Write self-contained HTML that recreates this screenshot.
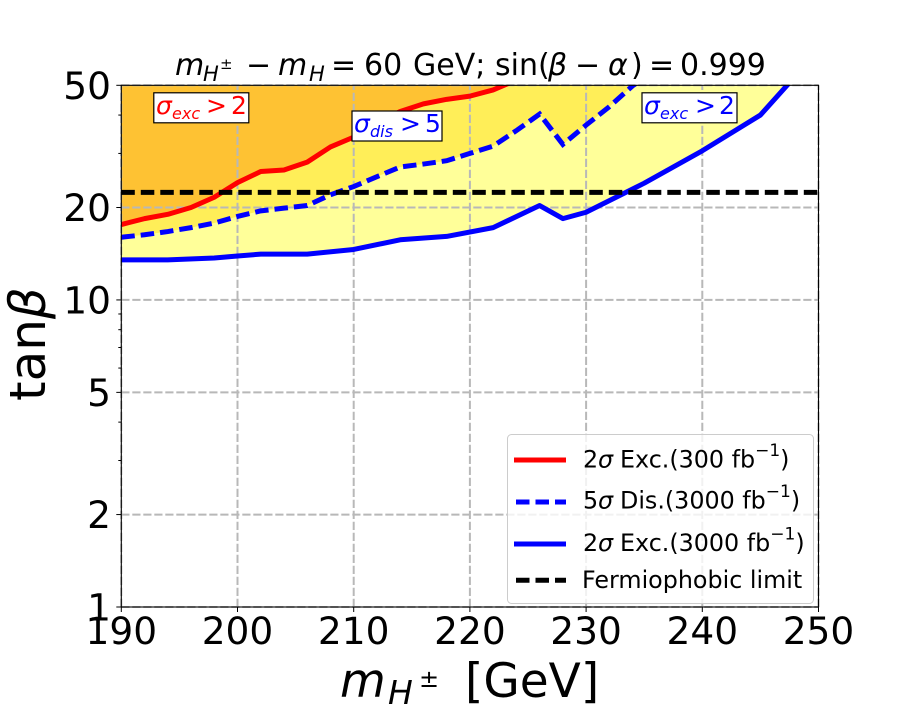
<!DOCTYPE html>
<html lang="en">
<head>
<meta charset="utf-8">
<title>tan beta exclusion chart</title>
<style>
html,body{margin:0;padding:0;background:#fff;width:909px;height:706px;overflow:hidden}
svg{display:block}
text{font-family:"DejaVu Sans","Liberation Sans",sans-serif;fill:#000}
.it{font-style:italic}
</style>
</head>
<body>
<svg id="chart" xmlns="http://www.w3.org/2000/svg" width="909" height="706" viewBox="0 0 909 706">
<defs><clipPath id="plot-clip"><rect x="121.3" y="85.3" width="697.2" height="521.7"/></clipPath></defs>
<g id="fills" clip-path="url(#plot-clip)"></g>
<g id="grid"></g>
<g id="lines" clip-path="url(#plot-clip)"></g>
<g id="axes"></g>

<g font-size="30">
<text y="75"><tspan class="it" x="175">m</tspan><tspan class="it" x="203" y="81" font-size="21">H</tspan><tspan x="220" y="69" font-size="15">±</tspan><tspan x="246" y="75">−</tspan><tspan class="it" x="278">m</tspan><tspan class="it" x="309" y="81" font-size="21">H</tspan><tspan x="331" y="75">=</tspan><tspan x="364">60</tspan><tspan x="413">GeV;</tspan><tspan x="495">sin(</tspan><tspan class="it" x="548">β</tspan><tspan x="575">−</tspan><tspan class="it" x="608">α</tspan><tspan x="631">)</tspan><tspan x="649">=</tspan><tspan x="680">0.999</tspan></text>
</g>

<g font-size="47">
<text y="697"><tspan class="it" x="340">m</tspan><tspan class="it" x="388" y="704" font-size="33">H</tspan><tspan x="419" y="687" font-size="24">±</tspan><tspan x="465" y="697">[GeV]</tspan></text>
</g>
<text font-size="50" transform="translate(45 401) rotate(-90)"><tspan>tan</tspan><tspan class="it">β</tspan></text>

<g>
<rect x="153.8" y="92.8" width="95" height="30" fill="#fff" stroke="#000" stroke-width="1.2"/>
<text y="114" font-size="25" style="fill:#f00"><tspan class="it" x="156">σ</tspan><tspan class="it" x="172" y="119" font-size="16">exc</tspan><tspan x="206" y="114">&gt;</tspan><tspan x="231">2</tspan></text>
</g>
<g>
<rect x="352" y="111" width="90" height="30" fill="#fff" stroke="#000" stroke-width="1.2"/>
<text y="132" font-size="25" style="fill:#00f"><tspan class="it" x="354">σ</tspan><tspan class="it" x="370" y="137" font-size="16">dis</tspan><tspan x="400" y="132">&gt;</tspan><tspan x="425">5</tspan></text>
</g>
<g>
<rect x="642" y="92.8" width="95" height="30" fill="#fff" stroke="#000" stroke-width="1.2"/>
<text y="114" font-size="25" style="fill:#00f"><tspan class="it" x="644">σ</tspan><tspan class="it" x="660" y="119" font-size="16">exc</tspan><tspan x="695" y="114">&gt;</tspan><tspan x="719">2</tspan></text>
</g>

<g>
<rect x="507.5" y="434.5" width="306" height="169" rx="4" ry="4" fill="#fff" fill-opacity="0.8" stroke="#ccc" stroke-width="1"/>
<g>
<line x1="514" x2="566" y1="460" y2="460" stroke="#f00" stroke-width="5"/>
<text font-size="23.8" y="467.5"><tspan x="583">2</tspan><tspan class="it" x="598">σ</tspan><tspan x="620">Exc.(300 fb</tspan><tspan y="456" font-size="17">−1</tspan><tspan y="467.5">)</tspan></text>
</g>
<g>
<line x1="516" x2="566" y1="502" y2="502" stroke="#00f" stroke-width="5" stroke-dasharray="13.5 6"/>
<text font-size="23.8" y="508.5"><tspan x="583">5</tspan><tspan class="it" x="598">σ</tspan><tspan x="620">Dis.(3000 fb</tspan><tspan y="497" font-size="17">−1</tspan><tspan y="508.5">)</tspan></text>
</g>
<g>
<line x1="514" x2="566" y1="544" y2="544" stroke="#00f" stroke-width="5"/>
<text font-size="23.8" y="551"><tspan x="583">2</tspan><tspan class="it" x="598">σ</tspan><tspan x="620">Exc.(3000 fb</tspan><tspan y="539.5" font-size="17">−1</tspan><tspan y="551">)</tspan></text>
</g>
<g>
<line x1="516" x2="566" y1="580.3" y2="580.3" stroke="#000" stroke-width="5" stroke-dasharray="13.5 6"/>
<text font-size="23.8" x="582" y="588">Fermiophobic limit</text>
</g>
</g>
</svg>
<script>
const xTicks = [190, 200, 210, 220, 230, 240, 250];
const yTicks = [1, 2, 5, 10, 20, 50];
const yMinorTicks = [3, 4, 6, 7, 8, 9, 30, 40];

const red300X = [190, 192, 194, 196, 198, 200, 202, 204, 206, 208, 210, 212, 214, 216, 218, 220, 222, 224];
const red300Y = [17.6, 18.4, 19.0, 20.0, 21.6, 24.1, 26.2, 26.5, 28.1, 31.5, 33.9, 37.6, 41.1, 43.5, 45.0, 46.1, 48.3, 52.0];

const dis3000X = [190, 192, 194, 196, 198, 200, 202, 204, 206, 208, 210, 212, 214, 216, 218, 220, 222, 224, 226, 228, 230, 232, 234, 236];
const dis3000Y = [16.0, 16.3, 16.7, 17.2, 17.8, 18.7, 19.5, 19.9, 20.3, 22.0, 23.4, 25.2, 27.1, 27.7, 28.4, 30.0, 31.7, 35.6, 40.3, 32.1, 37.1, 42.6, 49.8, 56.0];

const exc3000X = [190, 194, 198, 200, 202, 206, 210, 214, 218, 222, 226, 228, 230, 235, 240, 245, 250];
const exc3000Y = [13.5, 13.5, 13.7, 13.9, 14.1, 14.1, 14.6, 15.7, 16.1, 17.2, 20.3, 18.4, 19.3, 24.0, 30.6, 40.0, 65.0];

const fermiophobicX = [190, 250];
const fermiophobicY = [22.4, 22.4];

const xLeft = 121.3, xRight = 818.5, yBottom = 607, yTop = 85.3;
const xMin = 190, xMax = 250, yMin = 1, yMax = 50;
function sx(v) { return xLeft + (v - xMin) / (xMax - xMin) * (xRight - xLeft); }
function sy(v) { return yBottom - Math.log(v / yMin) / Math.log(yMax / yMin) * (yBottom - yTop); }

const NS = 'http://www.w3.org/2000/svg';
function mk(tag, parent, attrs) {
  const el = document.createElementNS(NS, tag);
  for (const k in attrs) el.setAttribute(k, attrs[k]);
  parent.appendChild(el);
  return el;
}
function pts(xs, ys) { return xs.map(function (x, i) { return sx(x).toFixed(2) + ',' + sy(ys[i]).toFixed(2); }); }
function regionPts(xs, ys) {
  const p = pts(xs, ys);
  p.push(sx(xs[xs.length - 1]).toFixed(2) + ',' + sy(200).toFixed(2));
  p.push(sx(xs[0]).toFixed(2) + ',' + sy(200).toFixed(2));
  return p.join(' ');
}

const fills = document.getElementById('fills');
const grid = document.getElementById('grid');
const lines = document.getElementById('lines');
const axes = document.getElementById('axes');

const fillA = mk('polygon', fills, { points: regionPts(exc3000X, exc3000Y), fill: '#ffff99' });


const fillB = mk('polygon', fills, { points: regionPts(dis3000X, dis3000Y), fill: '#ffee58' });


const fillC = mk('polygon', fills, { points: regionPts(red300X, red300Y), fill: '#fec233' });



const gridStyle = { stroke: '#b8b8b8', 'stroke-width': 2, 'stroke-dasharray': '8.2 2.8', fill: 'none' };
xTicks.forEach(function (t) {
  const a = Object.assign({ x1: sx(t), x2: sx(t), y1: yBottom, y2: yTop }, gridStyle);
  const g = mk('line', grid, a);
  
  
  const tick = mk('line', axes, { x1: sx(t), x2: sx(t), y1: yBottom, y2: yBottom + 5, stroke: '#000', 'stroke-width': 1 });
  
  
  const label = mk('text', axes, { x: sx(t), y: 644, 'text-anchor': 'middle', 'font-size': 37.5 });
  
  
  label.textContent = t;
});
yTicks.forEach(function (t) {
  const a = Object.assign({ x1: xLeft, x2: xRight, y1: sy(t), y2: sy(t) }, gridStyle);
  const g = mk('line', grid, a);
  
  
  const tick = mk('line', axes, { x1: xLeft - 5, x2: xLeft, y1: sy(t), y2: sy(t), stroke: '#000', 'stroke-width': 1 });
  
  
  const label = mk('text', axes, { x: 111, y: sy(t) + 13.5, 'text-anchor': 'end', 'font-size': 37.5 });
  
  
  label.textContent = t;
});
yMinorTicks.forEach(function (t) {
  const tick = mk('line', axes, { x1: xLeft - 3, x2: xLeft, y1: sy(t), y2: sy(t), stroke: '#000', 'stroke-width': 1 });
  
  
});

const lineRed = mk('polyline', lines, { points: pts(red300X, red300Y).join(' '), fill: 'none', stroke: '#f00', 'stroke-width': 5, 'stroke-linejoin': 'round' });


const lineDis = mk('polyline', lines, { points: pts(dis3000X, dis3000Y).join(' '), fill: 'none', stroke: '#00f', 'stroke-width': 5, 'stroke-dasharray': '13.5 6' });


const lineExc = mk('polyline', lines, { points: pts(exc3000X, exc3000Y).join(' '), fill: 'none', stroke: '#00f', 'stroke-width': 5, 'stroke-linejoin': 'round' });


const lineFermi = mk('polyline', lines, { points: pts(fermiophobicX, fermiophobicY).join(' '), fill: 'none', stroke: '#000', 'stroke-width': 5, 'stroke-dasharray': '13.5 6' });



const frame = mk('rect', axes, { x: xLeft, y: yTop, width: xRight - xLeft, height: yBottom - yTop, fill: 'none', stroke: '#000', 'stroke-width': 1.1 });


</script>
</body>
</html>
